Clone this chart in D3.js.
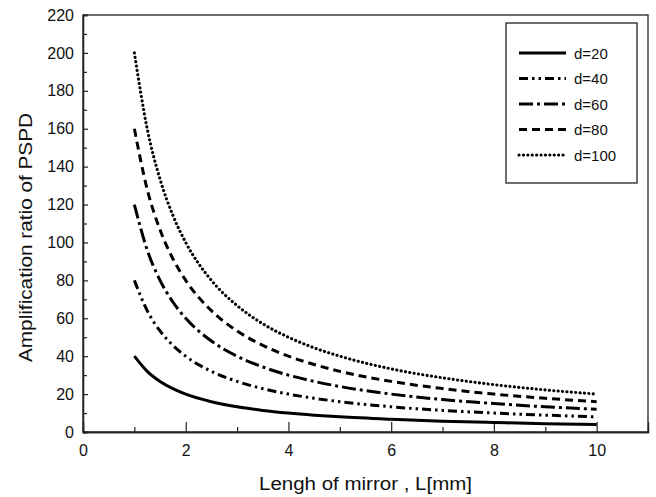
<!DOCTYPE html>
<html><head><meta charset="utf-8">
<script src="https://cdn.jsdelivr.net/npm/d3@7"></script>
<style>body{margin:0;background:#fff}svg{display:block;font-family:"Liberation Sans",Arial,sans-serif}</style>
</head><body><svg id="c" width="656" height="497"></svg>
<script>
const L = [1, 1.25, 1.5, 1.75, 2, 2.5, 3, 3.5, 4, 4.5, 5, 6, 7, 8, 9, 10];
const d20 = [40, 32, 26.7, 22.9, 20, 16, 13.3, 11.4, 10, 8.9, 8, 6.7, 5.7, 5, 4.4, 4];
const d40 = [80, 64, 53.3, 45.7, 40, 32, 26.7, 22.9, 20, 17.8, 16, 13.3, 11.4, 10, 8.9, 8];
const d60 = [120, 96, 80, 68.6, 60, 48, 40, 34.3, 30, 26.7, 24, 20, 17.1, 15, 13.3, 12];
const d80 = [160, 128, 106.7, 91.4, 80, 64, 53.3, 45.7, 40, 35.6, 32, 26.7, 22.9, 20, 17.8, 16];
const d100 = [200, 160, 133.3, 114.3, 100, 80, 66.7, 57.1, 50, 44.4, 40, 33.3, 28.6, 25, 22.2, 20];
const seriesNames = ["d=20", "d=40", "d=60", "d=80", "d=100"];
const xTicks = [0, 2, 4, 6, 8, 10];
const yTicks = [0, 20, 40, 60, 80, 100, 120, 140, 160, 180, 200, 220];

const series = [d20, d40, d60, d80, d100];
const dashes = [null, "9,4,2.5,4,2.5,4", "14,4,3,4", "8,5", "0.1,4.3"];
const caps = ["butt", "butt", "butt", "butt", "round"];
const widths = [3, 3, 3, 3, 3.1];

const svg = d3.select("#c");
const m = {l: 83, t: 15, r: 648, b: 432};
const x = d3.scaleLinear().domain([0, 11]).range([m.l, m.r]);
const y = d3.scaleLinear().domain([0, 220]).range([m.b, m.t]);

// frame
svg.append("rect").attr("x", m.l).attr("y", m.t).attr("width", m.r - m.l).attr("height", m.b - m.t)
  .attr("fill", "none").attr("stroke", "#222").attr("stroke-width", 1.3);

// x axis
const xa = svg.append("g").attr("transform", `translate(0,${m.b})`)
  .call(d3.axisBottom(x).tickValues(xTicks).tickSize(-10).tickPadding(13).tickFormat(d3.format("d")));
const xm = svg.append("g").attr("transform", `translate(0,${m.b})`)
  .call(d3.axisBottom(x).tickValues([1,3,5,7,9]).tickSize(-5).tickFormat(""));
// y axis
const ya = svg.append("g").attr("transform", `translate(${m.l},0)`)
  .call(d3.axisLeft(y).tickValues(yTicks).tickSize(-5).tickPadding(9).tickFormat(d3.format("d")));
const ym = svg.append("g").attr("transform", `translate(${m.l},0)`)
  .call(d3.axisLeft(y).tickValues(d3.range(10, 220, 20)).tickSize(-4).tickFormat(""));
[xa, xm, ya, ym].forEach(g => {
  g.select(".domain").attr("stroke", "#222").attr("stroke-width", 1.3);
  g.selectAll("line").attr("stroke", "#222").attr("stroke-width", 1.2);
  g.selectAll("text").attr("font-size", 16).attr("fill", "#111").attr("font-family", "Liberation Sans, Arial, sans-serif");
});

// titles
svg.append("text").attr("x", 365.5).attr("y", 490).attr("text-anchor", "middle")
  .attr("font-size", 18).attr("fill", "#111")
  .attr("textLength", 213).attr("lengthAdjust", "spacingAndGlyphs").text("Lengh of mirror , L[mm]");
svg.append("text").attr("transform", "translate(32,237.5) rotate(-90)").attr("text-anchor", "middle")
  .attr("font-size", 18).attr("fill", "#111")
  .attr("textLength", 249).attr("lengthAdjust", "spacingAndGlyphs").text("Amplification ratio of PSPD");

// lines
const line = d3.line().x((d, i) => x(L[i])).y(d => y(d)).curve(d3.curveMonotoneX);
series.forEach((s, k) => {
  svg.append("path").datum(s).attr("d", line).attr("fill", "none").attr("stroke", "#000")
    .attr("stroke-width", widths[k]).attr("stroke-dasharray", dashes[k]).attr("stroke-linecap", caps[k]);
});

// legend
svg.append("rect").attr("x", 506).attr("y", 23).attr("width", 131).attr("height", 160)
  .attr("fill", "#fff").attr("stroke", "#222").attr("stroke-width", 1.3);
seriesNames.forEach((n, k) => {
  const yy = 53 + k * 25.5;
  svg.append("line").attr("x1", 519).attr("x2", 566).attr("y1", yy).attr("y2", yy)
    .attr("stroke", "#000").attr("stroke-width", widths[k]).attr("stroke-dasharray", dashes[k]).attr("stroke-linecap", caps[k]);
  svg.append("text").attr("x", 574).attr("y", yy + 5.5).attr("font-size", 15).attr("fill", "#111").text(n);
});
</script></body></html>
